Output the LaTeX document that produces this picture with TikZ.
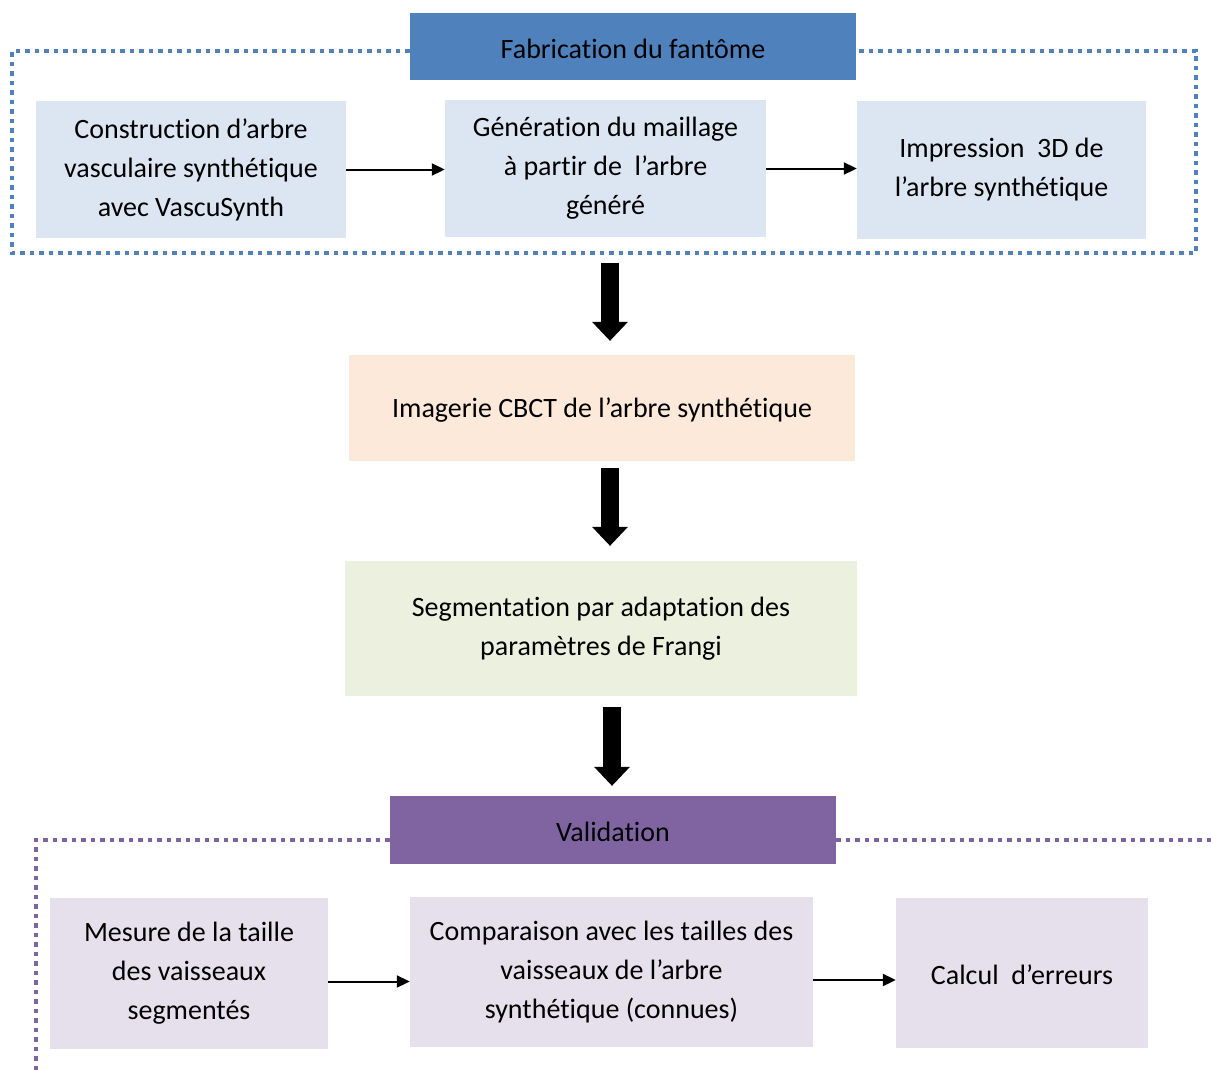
\documentclass[tikz,border=0pt]{standalone}
\usepackage{fontspec}
\setmainfont{Carlito}[Ligatures={NoCommon,NoContextual}]
\usetikzlibrary{arrows.meta,positioning,calc}
\definecolor{fabblue}{HTML}{4F81BD}
\definecolor{fabpale}{HTML}{DCE6F2}
\definecolor{cbctpeach}{HTML}{FDE9D9}
\definecolor{segsage}{HTML}{EBF1DE}
\definecolor{valpurple}{HTML}{8064A2}
\definecolor{valpale}{HTML}{E5E0EC}
\tikzset{
  stepbox/.style={draw=none, align=center, inner sep=0pt,
    font=\fontsize{28}{39}\selectfont, execute at begin node={\rule{0pt}{24pt}}},
  titlebox/.style={stepbox, minimum width=446pt},
  dotframe/.style={line width=4pt, dash pattern=on 4.5pt off 5pt},
  smallarrow/.style={line width=2pt, -{Triangle[length=13pt,width=12pt]}},
  bigarrow/.style={line width=18pt, -{Triangle[length=19pt,width=36pt,line width=0pt]}}
}
\begin{document}
\begin{tikzpicture}[x=1pt,y=1pt]
  \useasboundingbox (0,0) rectangle (1211,-1071);
  % Fabrication du fantome
  \node[titlebox, fill=fabblue, minimum height=67pt] (fab) at (633,-46.5) {Fabrication du fantôme};
  \node[stepbox, fill=fabpale, minimum width=310pt, minimum height=137pt] (constr) at (191,-169.5)
    {Construction d’arbre\\vasculaire synthétique\\avec VascuSynth};
  \node[stepbox, fill=fabpale, minimum width=321pt, minimum height=137pt] (maill) at (605.5,-168.5)
    {Génération du maillage\\à partir de\ \ l’arbre\\généré};
  \node[stepbox, fill=fabpale, minimum width=289pt, minimum height=138pt] (impr) at (1001.5,-170)
    {Impression\ \ 3D de\\l’arbre synthétique};
  \draw[fabblue, dotframe] (fab.west |- 0,-51) -- (12,-51) -- (12,-253) -- (1196,-253)
    -- (1196,-51) -- (fab.east |- 0,-51);
  \draw[smallarrow] (constr.east) -- (constr.east -| maill.west);
  \draw[smallarrow] (maill.east) -- (maill.east -| impr.west);
  % Imagerie et segmentation
  \node[stepbox, fill=cbctpeach, minimum width=506pt, minimum height=106pt] (cbct) at (602,-408)
    {Imagerie CBCT de l’arbre synthétique};
  \node[stepbox, fill=segsage, minimum width=512pt, minimum height=135pt] (frangi) at (601,-628.5)
    {Segmentation par adaptation des\\paramètres de Frangi};
  % Validation
  \node[titlebox, fill=valpurple, minimum height=68pt] (valid) at (613,-830) {Validation};
  \node[stepbox, fill=valpale, minimum width=278pt, minimum height=151pt] (mesure) at (189,-973.5)
    {Mesure de la taille\\des vaisseaux\\segmentés};
  \node[stepbox, fill=valpale, minimum width=403pt, minimum height=150pt] (compar) at (611.5,-972)
    {Comparaison avec les tailles des\\vaisseaux de l’arbre\\synthétique (connues)};
  \node[stepbox, fill=valpale, minimum width=252pt, minimum height=150pt] (calcul) at (1022,-973)
    {Calcul\ \ d’erreurs};
  \draw[valpurple, dotframe] (valid.west |- 0,-840) -- (36,-840) -- (36,-1080);
  \draw[valpurple, dotframe] (valid.east |- 0,-840) -- (1215,-840);
  \draw[smallarrow] ([yshift=-8pt]mesure.east) -- ([yshift=-8pt]mesure.east -| compar.west);
  \draw[smallarrow] ([yshift=-8pt]compar.east) -- ([yshift=-8pt]compar.east -| calcul.west);
  % Fleches principales
  \draw[bigarrow] ([xshift=8pt,yshift=92pt]cbct.north) -- ([xshift=8pt,yshift=14pt]cbct.north);
  \draw[bigarrow] ([xshift=8pt,yshift=-7pt]cbct.south) -- ([xshift=9pt,yshift=15pt]frangi.north);
  \draw[bigarrow] ([xshift=11pt,yshift=-11pt]frangi.south) -- ([xshift=-1pt,yshift=10pt]valid.north);
\end{tikzpicture}
\end{document}
